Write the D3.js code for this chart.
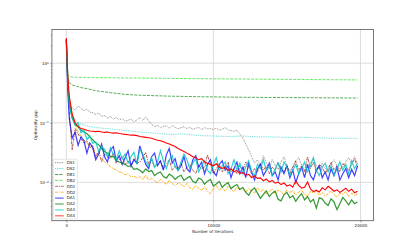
<!DOCTYPE html>
<html>
<head>
<meta charset="utf-8">
<script src="https://cdn.jsdelivr.net/npm/d3@7"></script>
<style>
body{margin:0;background:#fff;}
svg{display:block;font-family:"DejaVu Sans",sans-serif;}
</style>
</head>
<body>
<script>
// iteration grid of the noisy runs
var iters = [0,100,200,400,600,800,1000,1200,1400,1600,
  1800,2000,2200,2400,2600,2800,3000,3200,3400,3600,
  3800,4000,4200,4400,4600,4800,5000,5200,5400,5600,
  5800,6000,6200,6400,6600,6800,7000,7200,7400,7600,
  7800,8000,8200,8400,8600,8800,9000,9200,9400,9600,
  9800,10000,10200,10400,10600,10800,11000,11200,11400,11600,
  11800,12000,12200,12400,12600,12800,13000,13200,13400,13600,
  13800,14000,14200,14400,14600,14800,15000,15200,15400,15600,
  15800,16000,16200,16400,16600,16800,17000,17200,17400,17600,
  17800,18000,18200,18400,18600,18800,19000,19200,19400,19600,
  19800];
// coarser grid for the smooth runs
var itersCoarse = [0,100,200,400,700,1000,1500,2000,3000,4000,5000,6000,7000,
  8000,9000,10000,11000,12000,13000,14000,15000,16000,17000,18000,19000,19800];

var DS1 = [2.5,0.5,0.22,0.177,0.164,0.19,0.177,0.158,0.17,0.15,
  0.148,0.138,0.146,0.128,0.132,0.12,0.128,0.115,0.122,0.112,
  0.118,0.106,0.11,0.116,0.104,0.112,0.122,0.109,0.126,0.108,
  0.094,0.086,0.09,0.083,0.087,0.089,0.081,0.09,0.084,0.079,
  0.083,0.086,0.08,0.084,0.078,0.081,0.084,0.077,0.083,0.079,
  0.08,0.077,0.081,0.075,0.078,0.083,0.076,0.074,0.072,0.075,
  0.065,0.056,0.044,0.035,0.027,0.021,0.024,0.019,0.028,0.0215,
  0.017,0.024,0.0196,0.0165,0.022,0.027,0.019,0.0155,0.018,0.023,
  0.026,0.0196,0.016,0.0175,0.022,0.025,0.019,0.0165,0.021,0.0174,
  0.0155,0.0205,0.024,0.019,0.0165,0.018,0.022,0.026,0.0204,0.027,
  0.021];
var DS2 = [2.5,0.45,0.2,0.13,0.105,0.095,0.088,0.083,0.079,0.074,0.07,0.067,0.064,
  0.065,0.061,0.06,0.059,0.06,0.058,0.058,0.057,0.057,0.056,0.055,0.055,0.055];
var DB1 = [2.4,0.6,0.47,0.43,0.41,0.39,0.37,0.345,0.32,0.3,0.29,0.285,0.28,
  0.277,0.274,0.272,0.27,0.268,0.267,0.266,0.265,0.264,0.263,0.262,0.261,0.26];
var DB2 = [2.4,0.65,0.6,0.585,0.58,0.578,0.575,0.572,0.57,0.566,0.563,0.56,0.556,
  0.553,0.55,0.548,0.545,0.543,0.54,0.538,0.535,0.533,0.53,0.528,0.526,0.524];
var DD1 = [2.5,0.4,0.15,0.035,0.08,0.065,0.055,0.045,0.05,0.038,
  0.042,0.026,0.034,0.022,0.03,0.027,0.025,0.031,0.021,0.024,
  0.027,0.02,0.023,0.019,0.025,0.021,0.022,0.026,0.032,0.02,
  0.024,0.018,0.021,0.023,0.017,0.02,0.024,0.016,0.019,0.017,
  0.021,0.015,0.018,0.02,0.016,0.014,0.019,0.017,0.018,0.029,
  0.02,0.014,0.017,0.02,0.015,0.018,0.022,0.015,0.017,0.014,
  0.019,0.016,0.022,0.018,0.014,0.017,0.015,0.021,0.016,0.019,
  0.014,0.018,0.016,0.022,0.017,0.015,0.019,0.014,0.018,0.023,
  0.016,0.019,0.015,0.027,0.017,0.022,0.015,0.02,0.018,0.014,
  0.017,0.022,0.016,0.019,0.015,0.021,0.018,0.016,0.02,0.025,
  0.018];
var DD2 = [2.4,0.5,0.25,0.13,0.09,0.072,0.06,0.052,0.046,0.04,
  0.036,0.031,0.028,0.025,0.022,0.02,0.0185,0.017,0.0162,0.015,
  0.0145,0.0134,0.014,0.0124,0.0128,0.0118,0.0125,0.0112,0.0132,0.0109,
  0.0118,0.0105,0.0098,0.0112,0.0102,0.0092,0.0108,0.0096,0.0088,0.0098,
  0.0094,0.0084,0.0096,0.0081,0.0076,0.0089,0.008,0.0073,0.0085,0.0071,
  0.0064,0.0078,0.0088,0.0074,0.0082,0.0071,0.0086,0.0077,0.0069,0.0084,
  0.0075,0.0082,0.0068,0.0079,0.0072,0.0066,0.0081,0.007,0.0076,0.0064,
  0.0071,0.0078,0.0065,0.0074,0.0069,0.0062,0.0075,0.0068,0.0072,0.0061,
  0.0069,0.0074,0.0063,0.0058,0.0071,0.0066,0.0073,0.0061,0.0067,0.0059,
  0.0065,0.0071,0.0062,0.0057,0.0066,0.0063,0.007,0.0058,0.0066,0.006,
  0.0064];
var DA1 = [2.5,0.35,0.12,0.055,0.07,0.042,0.058,0.05,0.031,0.046,
  0.038,0.024,0.03,0.044,0.027,0.022,0.035,0.04,0.023,0.028,
  0.02,0.026,0.034,0.019,0.024,0.021,0.041,0.028,0.02,0.017,
  0.027,0.031,0.019,0.023,0.016,0.029,0.037,0.021,0.025,0.016,
  0.019,0.027,0.017,0.015,0.024,0.028,0.018,0.022,0.014,0.02,
  0.024,0.015,0.013,0.02,0.023,0.016,0.019,0.012,0.017,0.022,
  0.014,0.018,0.012,0.021,0.015,0.011,0.017,0.02,0.013,0.016,
  0.021,0.013,0.015,0.011,0.018,0.014,0.019,0.012,0.016,0.01,
  0.014,0.018,0.012,0.02,0.013,0.011,0.016,0.019,0.012,0.015,
  0.011,0.017,0.013,0.018,0.011,0.014,0.017,0.012,0.0165,0.013,
  0.019];
var DA2 = [2.4,0.45,0.22,0.12,0.095,0.085,0.075,0.07,0.066,0.058,
  0.052,0.046,0.043,0.037,0.033,0.031,0.027,0.027,0.023,0.022,
  0.021,0.02,0.0185,0.019,0.0165,0.017,0.016,0.0145,0.0168,0.0152,
  0.0158,0.013,0.0142,0.015,0.0125,0.0118,0.0138,0.0128,0.0112,0.0124,
  0.0132,0.0108,0.0117,0.0126,0.0104,0.0098,0.0118,0.0112,0.0093,0.0105,
  0.0112,0.0087,0.0094,0.0104,0.0083,0.0092,0.0099,0.0079,0.0086,0.0092,
  0.0076,0.0082,0.0068,0.0061,0.0074,0.0081,0.0066,0.0054,0.0063,0.0072,
  0.0058,0.0066,0.0071,0.0052,0.0049,0.0062,0.0068,0.0055,0.006,0.0048,
  0.0057,0.0065,0.0051,0.0058,0.0047,0.0052,0.0037,0.0055,0.0053,0.0045,
  0.0041,0.0053,0.0047,0.0035,0.0044,0.0056,0.0049,0.0042,0.0051,0.0044,
  0.0047];
var DA3 = [2.5,0.55,0.2,0.12,0.09,0.1,0.068,0.075,0.052,0.06,
  0.045,0.048,0.033,0.04,0.036,0.027,0.038,0.029,0.024,0.034,
  0.025,0.03,0.021,0.027,0.032,0.02,0.036,0.03,0.022,0.019,
  0.026,0.018,0.022,0.034,0.023,0.017,0.024,0.028,0.018,0.016,
  0.022,0.03,0.024,0.017,0.021,0.025,0.015,0.019,0.023,0.016,
  0.014,0.02,0.026,0.016,0.019,0.022,0.014,0.017,0.024,0.016,
  0.021,0.014,0.018,0.023,0.015,0.013,0.02,0.017,0.024,0.016,
  0.019,0.013,0.017,0.021,0.015,0.022,0.018,0.013,0.016,0.02,
  0.014,0.017,0.022,0.015,0.019,0.026,0.016,0.013,0.018,0.021,
  0.015,0.019,0.013,0.017,0.022,0.016,0.02,0.014,0.023,0.017,
  0.021];
var DA4 = [2.65,0.6,0.28,0.14,0.1,0.087,0.08,0.078,0.075,0.073,
  0.072,0.071,0.072,0.07,0.069,0.07,0.068,0.067,0.068,0.066,
  0.065,0.064,0.063,0.062,0.062,0.061,0.059,0.058,0.057,0.056,
  0.055,0.053,0.051,0.05,0.048,0.046,0.044,0.042,0.04,0.037,
  0.035,0.033,0.031,0.029,0.027,0.026,0.024,0.025,0.022,0.021,
  0.02,0.019,0.0205,0.018,0.0172,0.0178,0.016,0.0168,0.015,0.0158,
  0.0142,0.0146,0.0132,0.0136,0.0121,0.0128,0.0117,0.0119,0.0106,0.0114,
  0.0102,0.0108,0.0097,0.0101,0.0092,0.0098,0.0087,0.0091,0.0083,0.0106,
  0.0089,0.008,0.0083,0.0102,0.0078,0.007,0.0074,0.0069,0.0081,0.0075,
  0.0086,0.0079,0.0071,0.0075,0.0068,0.0073,0.008,0.0071,0.0077,0.0067,
  0.0071];

var xTicks = [0, 10000, 20000];
var yTicks = [0.01, 0.1, 1];
var yTickExp = ["\u22122", "\u22121", "0"];
var yMinor = [0.003,0.004,0.005,0.006,0.007,0.008,0.009,
  0.02,0.03,0.04,0.05,0.06,0.07,0.08,0.09,
  0.2,0.3,0.4,0.5,0.6,0.7,0.8,0.9,2,3];

var series = [
  {name:"DS1", x:iters, v:DS1, color:"#4a4a4a", dash:"0.9,0.9", op:0.8, w:0.8},
  {name:"DS2", x:itersCoarse, v:DS2, color:"#22cccc", dash:"0.9,0.9", op:0.9, w:0.8},
  {name:"DB1", x:itersCoarse, v:DB1, color:"#178c17", dash:"3,1.2", op:0.9, w:0.8},
  {name:"DB2", x:itersCoarse, v:DB2, color:"#2fe02f", dash:"3,1.2", op:0.9, w:0.8},
  {name:"DD1", x:iters, v:DD1, color:"#a52a2a", dash:"3,1,1,1", op:0.8, w:1},
  {name:"DD2", x:iters, v:DD2, color:"#ffa500", dash:"3,1,1,1", op:0.9, w:1},
  {name:"DA1", x:iters, v:DA1, color:"#0000ff", dash:null, op:0.75, w:1.2},
  {name:"DA2", x:iters, v:DA2, color:"#008000", dash:null, op:0.8, w:1.2},
  {name:"DA3", x:iters, v:DA3, color:"#00c4c4", dash:null, op:0.8, w:1.2},
  {name:"DA4", x:iters, v:DA4, color:"#ff0000", dash:null, op:1, w:1.1}
];

var W = 415, H = 249;
var pLeft = 51.9, pRight = 373.4, pTop = 29.5, pBottom = 220.7;

var svg = d3.select("body").append("svg")
    .attr("width", W)
    .attr("height", H);

var x = d3.scaleLinear().domain([-980, 20880]).range([pLeft, pRight]);
var y = d3.scaleLog().domain([0.002277, 3.676]).range([pBottom, pTop]);

// grid
var grid = svg.append("g").attr("stroke", "#d4d4d4").attr("stroke-width", 0.8);
grid.selectAll(".gx").data(xTicks).join("line")
    .attr("x1", d => x(d)).attr("x2", d => x(d))
    .attr("y1", pTop).attr("y2", pBottom);
grid.selectAll(".gy").data(yTicks).join("line")
    .attr("x1", pLeft).attr("x2", pRight)
    .attr("y1", d => y(d)).attr("y2", d => y(d));

// lines
var line = d3.line();
var lines = svg.append("g").attr("fill", "none");
series.forEach(function(s){
    lines.append("path")
        .attr("d", line(s.v.map((v, i) => [x(s.x[i]), y(v)])))
        .attr("stroke", s.color)
        .attr("stroke-opacity", s.op)
        .attr("stroke-width", s.w)
        .attr("stroke-dasharray", s.dash);
});

// spines
svg.append("rect")
    .attr("x", pLeft).attr("y", pTop)
    .attr("width", pRight - pLeft).attr("height", pBottom - pTop)
    .attr("fill", "none").attr("stroke", "#555").attr("stroke-width", 0.8);

// axes
var xAxis = svg.append("g")
    .attr("transform", "translate(0," + pBottom + ")")
    .call(d3.axisBottom(x).tickValues(xTicks).tickSize(1.8).tickPadding(1.2)
        .tickFormat(d3.format("d")));
var yAxis = svg.append("g")
    .attr("transform", "translate(" + pLeft + ",0)")
    .call(d3.axisLeft(y).tickValues(yTicks).tickSize(1.8).tickPadding(1.2)
        .tickFormat(() => ""));
var yMinorAxis = svg.append("g")
    .attr("transform", "translate(" + pLeft + ",0)")
    .call(d3.axisLeft(y).tickValues(yMinor).tickSize(1).tickFormat(() => ""));

[xAxis, yAxis, yMinorAxis].forEach(function(g){
    g.select(".domain").remove();
    g.selectAll(".tick line").attr("stroke", "#444").attr("stroke-width", 0.5);
    g.selectAll("text").attr("font-size", 4).attr("font-family", "DejaVu Sans").attr("fill", "#222");
});
yMinorAxis.selectAll("text").remove();

yAxis.selectAll(".tick text").each(function(d, i){
    var t = d3.select(this);
    t.append("tspan").text("10");
    t.append("tspan").attr("dy", "-0.5em").attr("font-size", 2.8).text(yTickExp[i]);
});

svg.append("text")
    .attr("x", (pLeft + pRight) / 2).attr("y", 233.2)
    .attr("text-anchor", "middle").attr("font-size", 4).attr("fill", "#222")
    .text("Number of iterations");
svg.append("text")
    .attr("transform", "translate(36.5," + ((pTop + pBottom) / 2) + ") rotate(-90)")
    .attr("text-anchor", "middle").attr("font-size", 4).attr("fill", "#222")
    .text("Optimality gap");

// legend
var lg = svg.append("g").attr("transform", "translate(53.3,159.3)");
lg.append("rect")
    .attr("width", 24).attr("height", 59.6).attr("rx", 1)
    .attr("fill", "#fff").attr("fill-opacity", 0.85)
    .attr("stroke", "#ccc").attr("stroke-width", 0.5);
series.forEach(function(s, i){
    var ly = 3.4 + i * 5.9;
    lg.append("line")
        .attr("x1", 1.8).attr("x2", 10.4).attr("y1", ly).attr("y2", ly)
        .attr("stroke", s.color).attr("stroke-opacity", s.dash ? s.op : 0.6)
        .attr("stroke-width", s.dash ? 0.9 : 1.3)
        .attr("stroke-dasharray", s.dash);
    lg.append("text")
        .attr("x", 13.4).attr("y", ly + 1.4)
        .attr("font-size", 4).attr("fill", "#222")
        .text(s.name);
});
</script>
</body>
</html>
